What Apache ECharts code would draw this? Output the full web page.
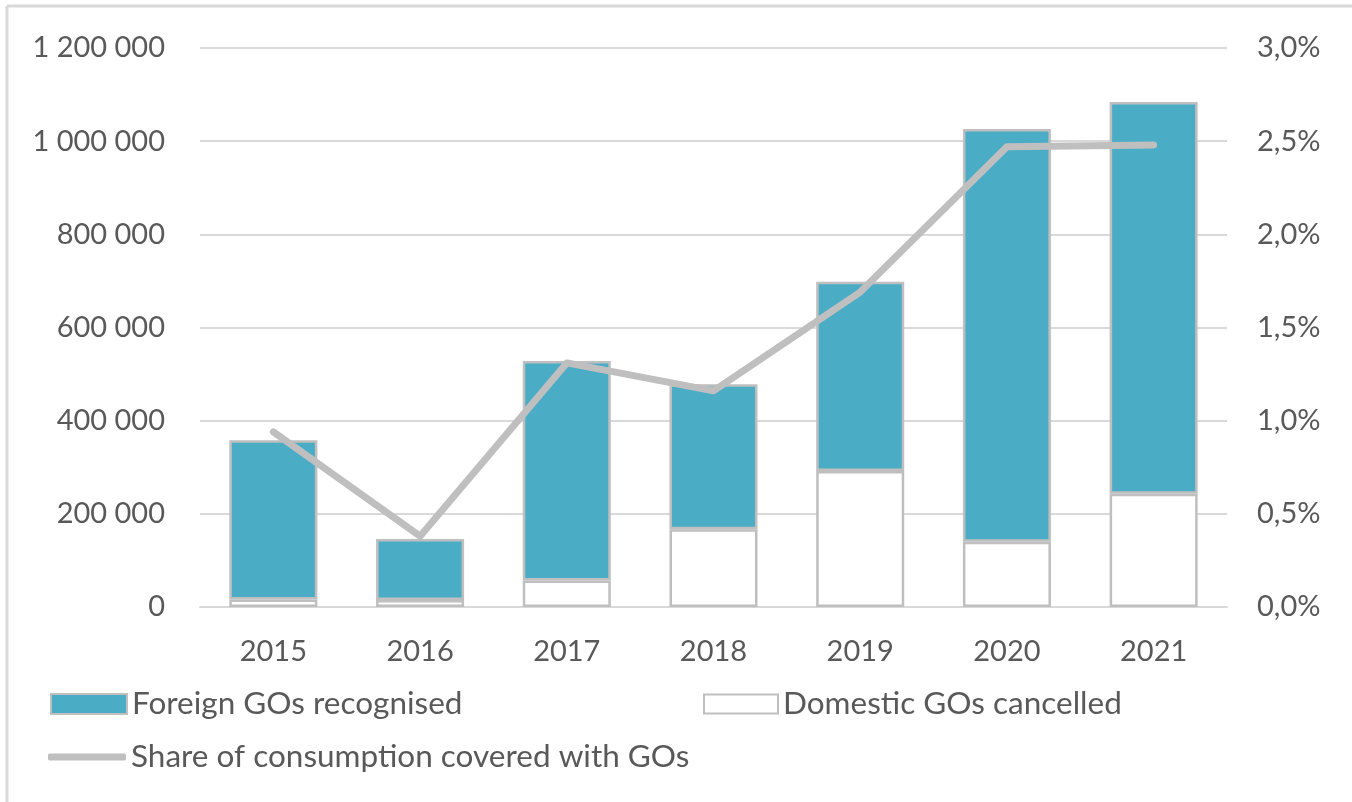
<!DOCTYPE html>
<html lang="en">
<head>
  <meta charset="UTF-8">
  <title>GOs</title>
  <style>
    html, body { margin: 0; padding: 0; background: #fff; }
    #chart { width: 1352px; height: 802px; }
  </style>
</head>
<body>
  <div id="chart"></div>
</body>
<script src="https://cdn.jsdelivr.net/npm/echarts@6/dist/echarts.min.js"></script>
<script>
  let years = ['2015', '2016', '2017', '2018', '2019', '2020', '2021']
  let domestic = [16000, 15000, 57000, 167000, 292000, 140000, 243000]
  let foreign = [342000, 131000, 471000, 311000, 406000, 886000, 841000]
  let share = [0.94, 0.38, 1.31, 1.16, 1.69, 2.47, 2.48]

  let textColor = '#595959'
  let font = 'Lato'
  let chart = echarts.init(document.getElementById('chart'))

  function spaced(v) {
    return String(v).replace(/\B(?=(\d{3})+(?!\d))/g, ' ')
  }

  let legendText = { color: textColor, fontFamily: font, fontSize: 31.5, lineHeight: 36, padding: [0, 0, 0, 0] }

  chart.setOption({
    backgroundColor: '#fff',
    animation: false,
    graphic: [
      { type: 'line', shape: { x1: 7, y1: 6, x2: 1352, y2: 6 }, style: { stroke: '#d9d9d9', lineWidth: 3 } },
      { type: 'line', shape: { x1: 7, y1: 6, x2: 7, y2: 802 }, style: { stroke: '#d9d9d9', lineWidth: 3 } }
    ],
    grid: { left: 200, right: 125, top: 48, bottom: 195 },
    legend: [
      {
        left: 50, top: 686, padding: 0, itemWidth: 76, itemHeight: 20, itemGap: 0,
        icon: 'rect', data: ['Foreign GOs recognised'], textStyle: legendText
      },
      {
        left: 703, top: 686, padding: 0, itemWidth: 74, itemHeight: 19, itemGap: 0,
        icon: 'rect', data: ['Domestic GOs cancelled'], textStyle: legendText
      },
      {
        left: 48, top: 739, padding: 0, itemWidth: 78, itemHeight: 7, itemGap: 0,
        icon: 'roundRect', data: ['Share of consumption covered with GOs'], textStyle: legendText,
        itemStyle: { color: '#bfbfbf', borderWidth: 0 }
      }
    ],
    xAxis: {
      type: 'category',
      data: years,
      axisTick: { show: false },
      axisLine: { lineStyle: { color: '#d9d9d9', width: 2 } },
      axisLabel: { color: textColor, fontFamily: font, fontSize: 29, margin: 30 }
    },
    yAxis: [
      {
        type: 'value', min: 0, max: 1200000, interval: 200000,
        axisLabel: { color: textColor, fontFamily: font, fontSize: 29, margin: 35, formatter: spaced },
        splitLine: { lineStyle: { color: '#d9d9d9', width: 2 } },
        axisLine: { show: false }, axisTick: { show: false }
      },
      {
        type: 'value', min: 0, max: 3, interval: 0.5,
        axisLabel: {
          color: textColor, fontFamily: font, fontSize: 29, margin: 30,
          formatter: v => v.toFixed(1).replace('.', ',') + '%'
        },
        splitLine: { show: false },
        axisLine: { show: false }, axisTick: { show: false }
      }
    ],
    series: [
      {
        name: 'Domestic GOs cancelled',
        type: 'bar', stack: 'gos', data: domestic, barCategoryGap: '40%',
        itemStyle: { color: '#ffffff', borderColor: '#bfbfbf', borderWidth: 2.5 }
      },
      {
        name: 'Foreign GOs recognised',
        type: 'bar', stack: 'gos', data: foreign, barCategoryGap: '40%',
        itemStyle: { color: '#4bacc6', borderColor: '#bfbfbf', borderWidth: 2.5 }
      },
      {
        name: 'Share of consumption covered with GOs',
        type: 'line', yAxisIndex: 1, data: share,
        symbol: 'none',
        lineStyle: { color: '#bfbfbf', width: 7, cap: 'round', join: 'round' },
        itemStyle: { color: '#bfbfbf' },
        z: 5
      }
    ]
  })
</script>
</html>
